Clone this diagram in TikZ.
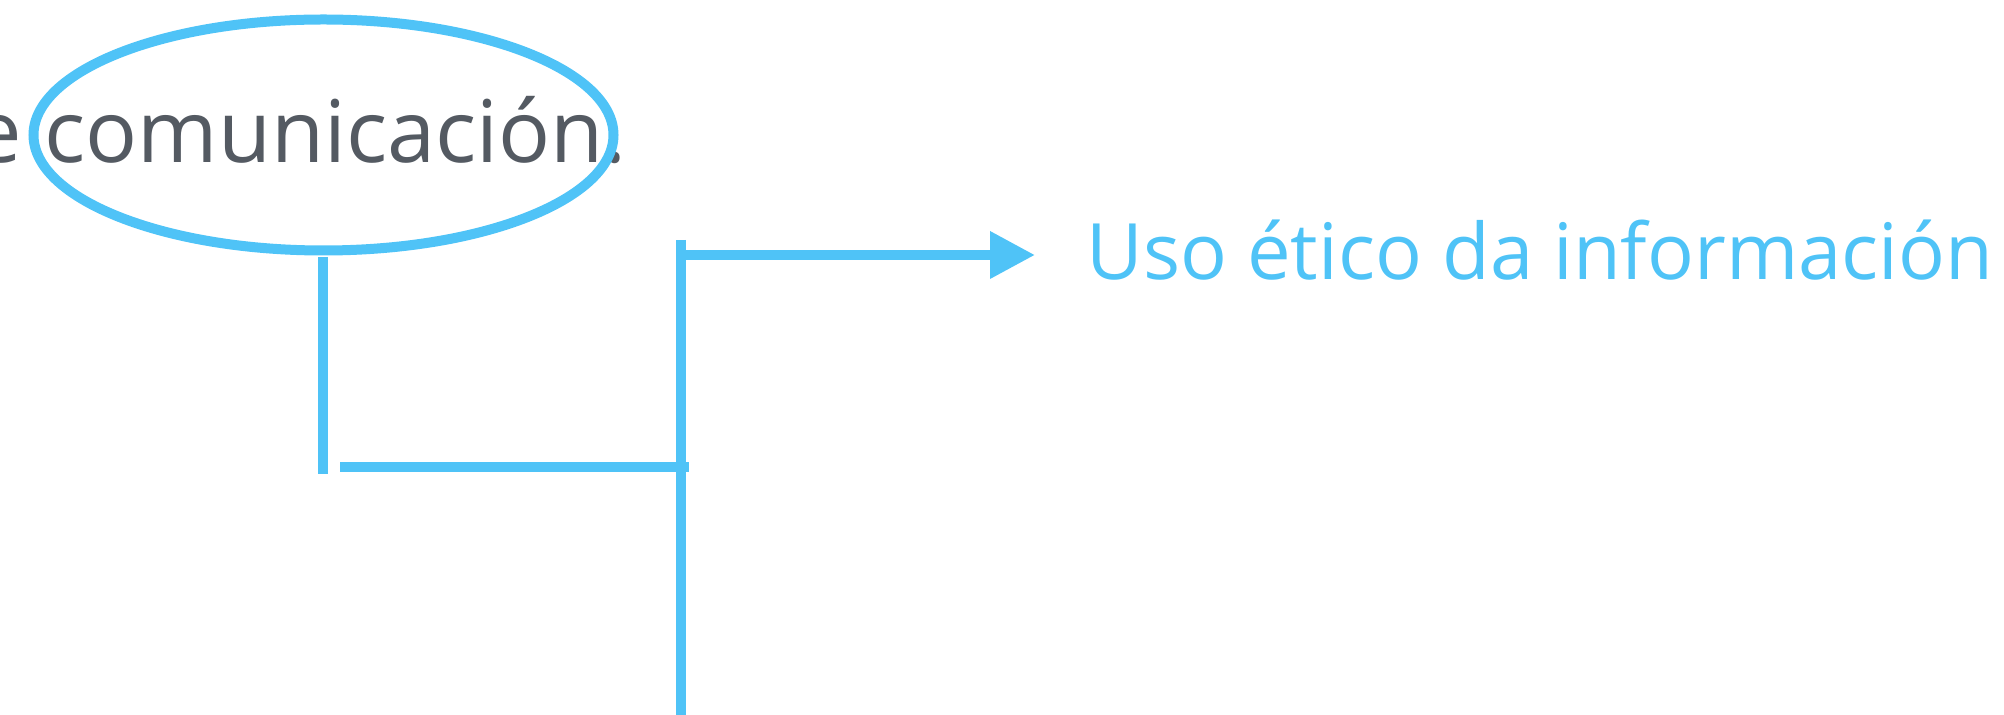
\documentclass[tikz,border=0pt]{standalone}
\usepackage{fontspec}
\setmainfont{Open Sans}
\usetikzlibrary{arrows.meta,shapes.geometric}
\definecolor{lb}{HTML}{4FC3F7}
\definecolor{tg}{HTML}{545A62}
\begin{document}
\begin{tikzpicture}[x=0.5pt,y=-0.5pt,
  conn/.style={draw=lb,line width=5pt},
  arrowconn/.style={conn,-{Triangle[length=22.5pt,width=22.5pt]}},
  bubble/.style={ellipse,draw=lb,line width=5pt,inner sep=0pt,minimum width=290pt,minimum height=115.5pt},
  graytext/.style={text=tg,font=\fontsize{43.2pt}{52pt}\selectfont,inner sep=0pt},
  bluetext/.style={text=lb,font=\fontsize{38.9pt}{46pt}\selectfont,inner sep=0pt}]
\useasboundingbox (0,0) rectangle (2004,715);
\node[graytext,anchor=base east] (src) at (627,163) {e comunicación.};
\node[bubble] (ell) at (323.5,135) {};
\node[bluetext,anchor=base west] (dst) at (1086,280) {Uso ético da información};
% connectors
\coordinate (l1) at (323,257);
\coordinate (l2) at (323,474);
\coordinate (h1) at (340,467);
\coordinate (h2) at (689,467);
\coordinate (v1) at (681,240);
\coordinate (v2) at (681,715);
\coordinate (a1) at (686,255);
\coordinate (a2) at (1035,255);
\draw[conn] (l1) -- (l2);
\draw[conn] (h1) -- (h2);
\draw[conn] (v1) -- (v2);
\draw[arrowconn] (a1) -- (a2);
\end{tikzpicture}
\end{document}
